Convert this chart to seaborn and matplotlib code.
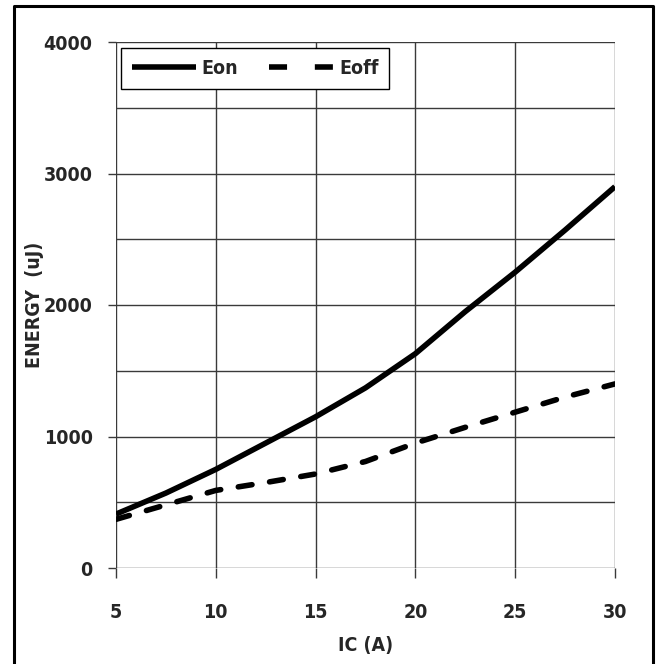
import matplotlib
matplotlib.use("Agg")
import matplotlib.pyplot as plt
from matplotlib.lines import Line2D
from matplotlib.ticker import MultipleLocator
import seaborn as sns
import pandas as pd

# ---- data ----
ic = [5, 7.5, 10, 12.5, 15, 17.5, 20, 22.5, 25, 27.5, 30]
eon = [410, 570, 750, 950, 1150, 1370, 1630, 1950, 2250, 2570, 2900]
eoff = [370, 480, 590, 650, 715, 810, 950, 1070, 1185, 1300, 1400]
series_names = ["Eon", "Eoff"]
x_label = "IC (A)"
y_label = "ENERGY  (uJ)"
x_ticks = [5, 10, 15, 20, 25, 30]
y_ticks = [0, 1000, 2000, 3000, 4000]

df = pd.DataFrame({
    "IC": ic * 2,
    "E": eon + eoff,
    "series": [series_names[0]] * len(ic) + [series_names[1]] * len(ic),
})

sns.set_theme(style="white")
plt.rcParams["font.family"] = ["Liberation Sans Narrow", "DejaVu Sans"]
plt.rcParams["font.stretch"] = "condensed"
plt.rcParams["font.weight"] = "bold"

FS = 14
LW = 4.0

fig = plt.figure(figsize=(6.56, 6.64), dpi=100)
ax = fig.add_axes([116 / 656, 1 - 568 / 664, 499 / 656, 526 / 664])

sns.lineplot(data=df, x="IC", y="E", hue="series", style="series",
             palette=["black", "black"],
             dashes={"Eon": "", "Eoff": (2.5, 3.2)},
             linewidth=LW, ax=ax, legend=True)
for ln in ax.get_lines():
    ln.set_dash_capstyle("round")
    ln.set_solid_capstyle("butt")

ax.set_xlim(5, 30)
ax.set_ylim(0, 4000)
ax.set_xticks(x_ticks)
ax.set_yticks(y_ticks)
ax.yaxis.set_minor_locator(MultipleLocator(500))
ax.grid(True, which="both", color="#3a3a3a", linewidth=1.0)
ax.set_axisbelow(True)
for s in ax.spines.values():
    s.set_visible(False)

ax.tick_params(axis="x", which="major", direction="out", length=7.2, width=1.0,
               color="#3a3a3a", pad=18, labelsize=FS, bottom=True)
ax.tick_params(axis="y", which="major", direction="out", length=5.8, width=1.0,
               color="#3a3a3a", pad=11, labelsize=FS, left=True)
ax.tick_params(axis="y", which="minor", length=0)
for lab in ax.get_xticklabels() + ax.get_yticklabels():
    lab.set_fontweight("bold")
    lab.set_fontstretch("condensed")

ax.set_xlabel(x_label, fontsize=FS, fontweight="bold", fontstretch="condensed", labelpad=10)
ax.set_ylabel(y_label, fontsize=FS, fontweight="bold", fontstretch="condensed", labelpad=0)

handles, labels = ax.get_legend_handles_labels()
leg = ax.legend(handles=handles, labels=labels, loc="upper left",
                bbox_to_anchor=(0.01, 0.988), ncol=2, frameon=True,
                fancybox=False, edgecolor="black", framealpha=1,
                prop={"size": FS, "weight": "bold", "stretch": "condensed"},
                handlelength=3.3, handletextpad=0.3, columnspacing=1.6,
                borderpad=0.55, borderaxespad=0)
leg.get_frame().set_linewidth(1.0)
leg_lines = leg.get_lines()
for h in leg_lines:
    h.set_linewidth(LW)
    h.set_dash_capstyle("butt")
    h.set_solid_capstyle("butt")
leg_lines[1].set_dashes((3.25, 5.0))

# outer frame of the picture
l, t, r = 14 / 656, 1 - 6 / 664, 653 / 656
fig.add_artist(Line2D([l, l, r, r], [-0.02, t, t, -0.02],
                      transform=fig.transFigure, color="black", linewidth=2.2))

fig.savefig("out.png", dpi=100)
